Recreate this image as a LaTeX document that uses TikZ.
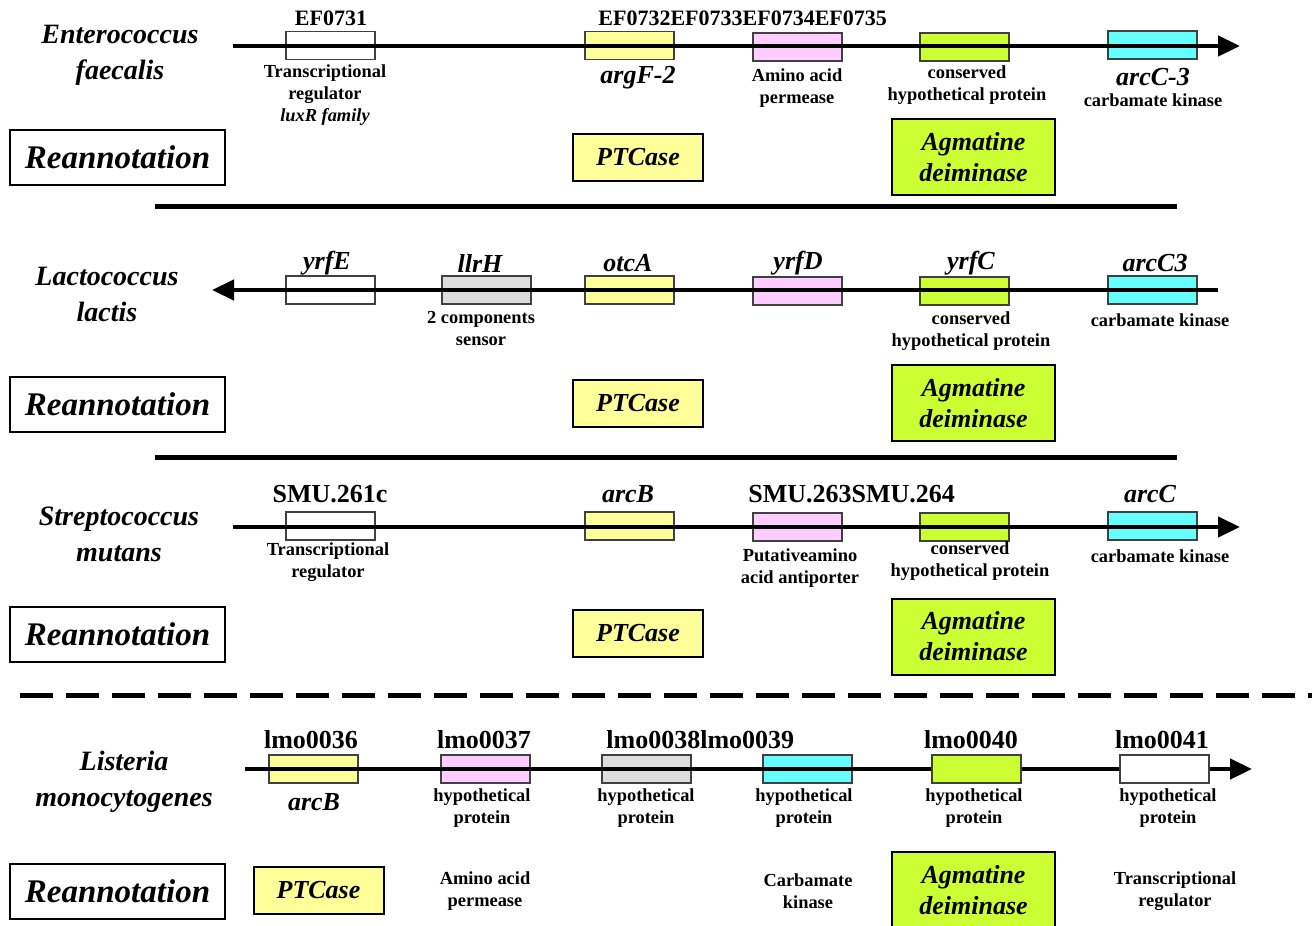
\documentclass[tikz,border=0pt]{standalone}
\usepackage{fontspec}
\setmainfont{Liberation Serif}
\usetikzlibrary{arrows.meta}

\definecolor{ptc}{HTML}{FFFF99}
\definecolor{perm}{HTML}{FFCCFF}
\definecolor{agm}{HTML}{CCFF33}
\definecolor{kin}{HTML}{66FFFF}
\definecolor{sens}{HTML}{DDDDDD}

\tikzset{
  gene/.style={draw=black!75, line width=0.75pt, minimum width=44.5pt, minimum height=14pt, inner sep=0pt},
  species/.style={font=\bfseries\itshape\fontsize{14}{18}\selectfont, align=center},
  reann/.style={draw, line width=1pt, minimum width=107.5pt, minimum height=27.5pt, inner sep=0pt,
    font=\bfseries\itshape\fontsize{16.5}{20}\selectfont},
  ptcbox/.style={draw, line width=1pt, fill=ptc, minimum width=65pt, minimum height=23.5pt, inner sep=0pt,
    font=\bfseries\itshape\fontsize{13}{15.5}\selectfont},
  agmbox/.style={draw, line width=1pt, fill=agm, minimum width=81.5pt, minimum height=38pt, inner sep=0pt,
    align=center, font=\bfseries\itshape\fontsize{13}{15.5}\selectfont},
  note/.style={font=\bfseries\fontsize{9.2}{11}\selectfont, align=center, inner sep=0pt},
  efid/.style={font=\bfseries\fontsize{11}{13}\selectfont, inner sep=0pt},
  locus/.style={font=\bfseries\fontsize{13}{15}\selectfont, inner sep=0pt},
  gname/.style={font=\bfseries\itshape\fontsize{13}{15}\selectfont, inner sep=0pt},
  backbone/.style={line width=2.25pt, -{Triangle[length=11pt,width=10pt]}},
  divider/.style={line width=2.5pt}
}

\begin{document}
\begin{tikzpicture}[x=0.5pt, y=-0.5pt]
  \useasboundingbox (0,0) rectangle (1312,926);

  % Enterococcus faecalis
  \node[species] (efa) at (120,55) {Enterococcus\\faecalis};
  \node[gene] (ef31) at (330.5,45.5) {};
  \node[gene, fill=ptc] (ef32) at (629.5,45.5) {};
  \node[gene, fill=perm] (ef33) at (797.5,47) {};
  \node[gene, fill=agm] (ef34) at (964.5,47) {};
  \node[gene, fill=kin] (ef35) at (1152.5,45) {};
  \coordinate (efs) at (233,46);
  \coordinate (efe) at (1240,46);
  \draw[backbone] (efs) -- (efe);
  \node[efid] (ef31t) at (331,18) {EF0731};
  \node[efid, anchor=west] (ef32t) at (598,18) {EF0732EF0733EF0734EF0735};
  \node[note] (ef31n) at (325,95) {Transcriptional\\regulator\\\textit{luxR family}};
  \node[gname] (ef32n) at (638,78) {argF-2};
  \node[note] (ef33n) at (797,88) {Amino acid\\permease};
  \node[note] (ef34n) at (967,85) {conserved\\hypothetical protein};
  \node[gname] (ef35n) at (1153,77) {arcC-3};
  \node[note] (ef35k) at (1153,100) {carbamate kinase};
  \node[reann] (efr) at (117.5,157.5) {Reannotation};
  \node[ptcbox] (efp) at (638,157.5) {PTCase};
  \node[agmbox] (efg) at (973.5,157) {Agmatine\\deiminase};
  \coordinate (d1a) at (155,206);
  \coordinate (d1b) at (1177,206);
  \draw[divider] (d1a) -- (d1b);

  % Lactococcus lactis
  \node[species] (lla) at (107,294.5) {Lactococcus\\lactis};
  \node[gene] (ll1) at (330.5,290) {};
  \node[gene, fill=sens] (ll2) at (486.5,290) {};
  \node[gene, fill=ptc] (ll3) at (629.5,290) {};
  \node[gene, fill=perm] (ll4) at (797.5,291) {};
  \node[gene, fill=agm] (ll5) at (964.5,291) {};
  \node[gene, fill=kin] (ll6) at (1152.5,290) {};
  \coordinate (lls) at (1218,290);
  \coordinate (lle) at (212,290);
  \draw[backbone] (lls) -- (lle);
  \node[gname] (ll1t) at (327,263) {yrfE};
  \node[gname] (ll2t) at (480,263) {llrH};
  \node[gname] (ll3t) at (628,263) {otcA};
  \node[gname] (ll4t) at (798,263) {yrfD};
  \node[gname] (ll5t) at (971,263) {yrfC};
  \node[gname] (ll6t) at (1155,263) {arcC3};
  \node[note] (ll2n) at (481,328) {2 components\\sensor};
  \node[note] (ll5n) at (971,331) {conserved\\hypothetical protein};
  \node[note] (ll6n) at (1160,320) {carbamate kinase};
  \node[reann] (llr) at (117.5,404) {Reannotation};
  \node[ptcbox] (llp) at (638,403.5) {PTCase};
  \node[agmbox] (llg) at (973.5,403) {Agmatine\\deiminase};
  \coordinate (d2a) at (155,457);
  \coordinate (d2b) at (1177,457);
  \draw[divider] (d2a) -- (d2b);

  % Streptococcus mutans
  \node[species] (smu) at (119,534.5) {Streptococcus\\mutans};
  \node[gene] (sm1) at (330.5,526) {};
  \node[gene, fill=ptc] (sm2) at (629.5,526) {};
  \node[gene, fill=perm] (sm3) at (797.5,527) {};
  \node[gene, fill=agm] (sm4) at (964.5,527) {};
  \node[gene, fill=kin] (sm5) at (1152.5,526) {};
  \coordinate (sms) at (233,527);
  \coordinate (sme) at (1240,527);
  \draw[backbone] (sms) -- (sme);
  \node[locus] (sm1t) at (330,494) {SMU.261c};
  \node[gname] (sm2t) at (628,494) {arcB};
  \node[locus, anchor=west] (sm3t) at (748,494) {SMU.263SMU.264};
  \node[gname] (sm5t) at (1150,494) {arcC};
  \node[note] (sm1n) at (328,562) {Transcriptional\\regulator};
  \node[note] (sm3n) at (800,568) {Putativeamino\\acid antiporter};
  \node[note] (sm4n) at (970,561) {conserved\\hypothetical protein};
  \node[note] (sm5n) at (1160,556) {carbamate kinase};
  \node[reann] (smr) at (117.5,634) {Reannotation};
  \node[ptcbox] (smp) at (638,633.5) {PTCase};
  \node[agmbox] (smg) at (973.5,636.5) {Agmatine\\deiminase};
  \coordinate (d3a) at (20,695);
  \coordinate (d3b) at (1312,695);
  \draw[divider, dash pattern=on 16.5pt off 6.5pt] (d3a) -- (d3b);

  % Listeria monocytogenes
  \node[species] (lmo) at (124,781.5) {Listeria\\monocytogenes};
  \node[gene, fill=ptc] (lm1) at (313.5,769) {};
  \node[gene, fill=perm] (lm2) at (485.5,769) {};
  \node[gene, fill=sens] (lm3) at (646.5,769) {};
  \node[gene, fill=kin] (lm4) at (807.5,769) {};
  \coordinate (lms) at (245,769);
  \coordinate (lme) at (1252,769);
  \draw[backbone] (lms) -- (lme);
  \node[gene, fill=agm] (lm5) at (976.5,769) {};
  \node[gene, fill=white] (lm6) at (1164.5,769) {};
  \node[locus] (lm1t) at (311,740) {lmo0036};
  \node[locus] (lm2t) at (484,740) {lmo0037};
  \node[locus, anchor=west] (lm3t) at (606,740) {lmo0038lmo0039};
  \node[locus] (lm5t) at (971,740) {lmo0040};
  \node[locus] (lm6t) at (1162,740) {lmo0041};
  \node[gname] (lm1n) at (314,802) {arcB};
  \node[note] (lm2n) at (482,808) {hypothetical\\protein};
  \node[note] (lm3n) at (646,808) {hypothetical\\protein};
  \node[note] (lm4n) at (804,808) {hypothetical\\protein};
  \node[note] (lm5n) at (974,808) {hypothetical\\protein};
  \node[note] (lm6n) at (1168,808) {hypothetical\\protein};
  \node[reann] (lmr) at (117.5,891) {Reannotation};
  \node[ptcbox] (lmp) at (318.5,890.5) {PTCase};
  \node[note] (lm2r) at (485,891) {Amino acid\\permease};
  \node[note] (lm4r) at (808,891) {Carbamate\\kinase};
  \node[agmbox] (lmg) at (973.5,890) {Agmatine\\deiminase};
  \node[note] (lm6r) at (1175,891) {Transcriptional\\regulator};
\end{tikzpicture}
\end{document}
